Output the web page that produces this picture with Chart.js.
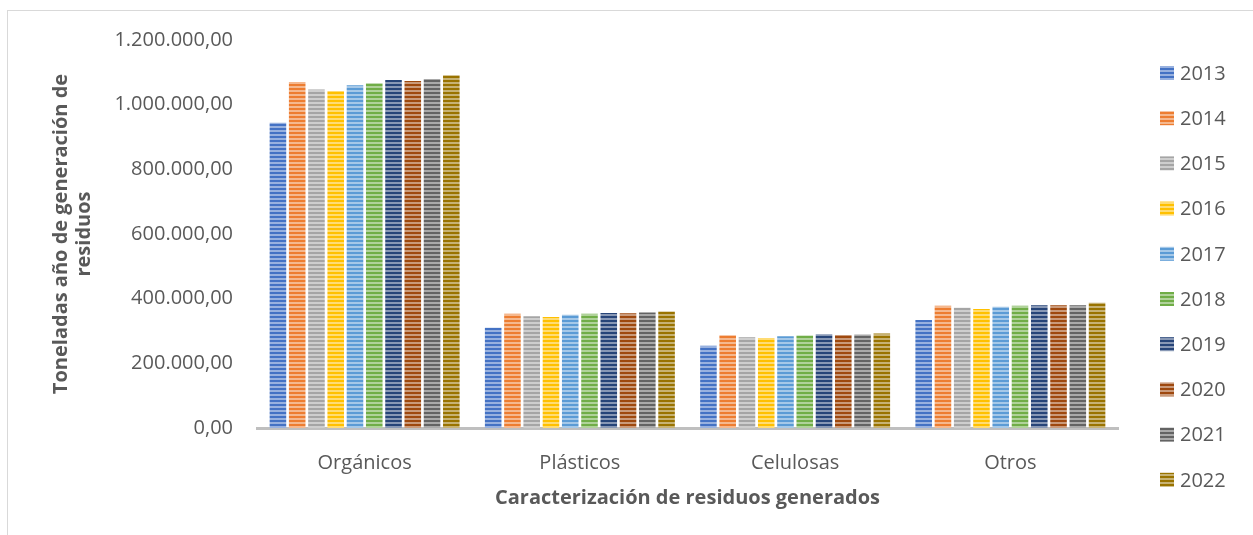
<!DOCTYPE html>
<html>
<head>
<meta charset="utf-8">
<script src="https://cdn.jsdelivr.net/npm/chart.js"></script>
<style>
html, body { margin:0; padding:0; background:#fff; }
#wrap { width:1253px; height:535px; position:relative; }
</style>
</head>
<body>
<div id="wrap"><canvas id="chart" width="1253" height="535"></canvas></div>
<script>
// categories and series (toneladas / año)
const categories = ["Orgánicos", "Plásticos", "Celulosas", "Otros"];
const years = ["2013","2014","2015","2016","2017","2018","2019","2020","2021","2022"];

const y2013 = [944000, 310000, 254000, 334000];
const y2014 = [1070000, 353000, 287000, 378000];
const y2015 = [1047000, 346000, 281000, 372000];
const y2016 = [1042000, 343000, 278000, 368000];
const y2017 = [1060000, 350000, 284000, 375000];
const y2018 = [1066000, 353000, 286000, 378000];
const y2019 = [1076000, 356000, 290000, 380000];
const y2020 = [1073000, 355000, 288000, 380000];
const y2021 = [1079000, 357000, 289000, 380000];
const y2022 = [1091000, 360000, 292000, 387000];
const series = [y2013, y2014, y2015, y2016, y2017, y2018, y2019, y2020, y2021, y2022];

const yTicks = [0, 200000, 400000, 600000, 800000, 1000000, 1200000];

const colors = ["#4472C4","#ED7D31","#A5A5A5","#FFC000","#5B9BD5","#70AD47","#264478","#9E480E","#636363","#997300"];

const FONT = "'Open Sans', 'Noto Sans', sans-serif";
const TXT = "#595959";

// striped fill like the Excel "horizontal" pattern
function stripes(hex) {
  const c = document.createElement("canvas");
  c.width = 4; c.height = 4;
  const g = c.getContext("2d");
  const r = parseInt(hex.slice(1,3),16), gg = parseInt(hex.slice(3,5),16), b = parseInt(hex.slice(5,7),16);
  const mix = v => Math.round(v + (255 - v) * 0.45);
  g.fillStyle = hex;
  g.fillRect(0, 0, 4, 4);
  g.fillStyle = `rgb(${mix(r)},${mix(gg)},${mix(b)})`;
  g.fillRect(0, 2, 4, 2);
  return g.createPattern(c, "repeat");
}

function fmt(v) {
  return Math.round(v).toString().replace(/\B(?=(\d{3})+(?!\d))/g, ".") + ",00";
}

const frame = {
  id: "frame",
  beforeDraw(chart) {
    const ctx = chart.ctx;
    ctx.save();
    ctx.fillStyle = "#fff";
    ctx.fillRect(0, 0, chart.width, chart.height);
    ctx.strokeStyle = "#d9d9d9";
    ctx.lineWidth = 1;
    ctx.strokeRect(7.5, 10.5, 1400, 700);
    ctx.restore();
  }
};

const sideLegend = {
  id: "sideLegend",
  afterDraw(chart) {
    const ctx = chart.ctx;
    ctx.save();
    ctx.font = "20px " + FONT;
    ctx.textBaseline = "middle";
    chart.data.datasets.forEach((ds, i) => {
      const y = 73 + i * 45.2;
      ctx.fillStyle = ds.backgroundColor;
      ctx.fillRect(1160, y - 7, 14, 14);
      ctx.fillStyle = TXT;
      ctx.fillText(ds.label, 1180, y + 1);
    });
    ctx.restore();
  }
};

new Chart(document.getElementById("chart"), {
  type: "bar",
  data: {
    labels: categories,
    datasets: years.map((yr, i) => ({
      label: yr,
      data: series[i],
      backgroundColor: stripes(colors[i]),
      borderWidth: 0,
      categoryPercentage: 0.895,
      barPercentage: 0.86
    }))
  },
  options: {
    responsive: false,
    animation: false,
    devicePixelRatio: 1,
    layout: { padding: { top: 40, right: 135, bottom: 21, left: 0 } },
    plugins: {
      legend: { display: false },
      tooltip: { enabled: false }
    },
    scales: {
      x: {
        grid: { display: false, drawTicks: false },
        border: { display: true, color: "#bfbfbf", width: 3 },
        ticks: { color: TXT, font: { family: FONT, size: 20 }, padding: 23 },
        title: {
          display: true,
          text: "Caracterización de residuos generados",
          color: TXT,
          font: { family: FONT, size: 20, weight: "bold", lineHeight: 1.2 },
          padding: { top: -12, bottom: 4 }
        }
      },
      y: {
        min: 0,
        max: 1200000,
        afterBuildTicks(scale) { scale.ticks = yTicks.map(v => ({ value: v })); },
        afterFit(scale) { scale.width = 257; },
        grid: { display: false, drawTicks: false },
        border: { display: false },
        ticks: { color: TXT, font: { family: FONT, size: 20 }, padding: 24, callback: v => fmt(v) },
        title: {
          display: true,
          text: ["Toneladas año de generación de", "residuos"],
          color: TXT,
          font: { family: FONT, size: 20, weight: "bold", lineHeight: 1.15 },
          padding: { top: 50, bottom: 0 }
        }
      }
    }
  },
  plugins: [frame, sideLegend]
});
</script>
</body>
</html>
